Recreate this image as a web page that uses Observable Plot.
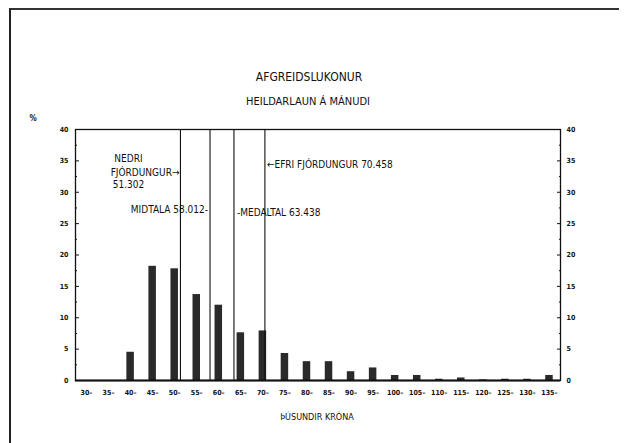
<!DOCTYPE html>
<html>
<head>
<meta charset="utf-8">
<script src="https://cdn.jsdelivr.net/npm/d3@7"></script>
<script src="https://cdn.jsdelivr.net/npm/@observablehq/plot@0.6"></script>
<style>
  html, body { margin: 0; padding: 0; background: #fff; }
  #wrap { position: relative; width: 625px; height: 443px; overflow: hidden; background: #fff;
          font-family: "DejaVu Sans Condensed", "Liberation Sans", sans-serif; color: #111; }
  #border { position: absolute; left: 9px; top: 8px; width: 608px; height: 440px;
            border-left: 2px solid #222; border-top: 2px solid #333; }
  .lbl { position: absolute; white-space: nowrap; transform: translate(-50%, -50%); }
  #title { left: 309px; top: 77px; font-size: 12px; }
  #subtitle { left: 308px; top: 101px; font-size: 11px; }
  #xtitle { left: 317px; top: 417px; font-size: 9px; }
  #pct { left: 33px; top: 118px; font-size: 8px; font-weight: bold; }
  #chart { position: absolute; left: 0; top: 0; }
</style>
</head>
<body>
<div id="wrap">
  <div id="border"></div>
  <div id="title" class="lbl">AFGREIDSLUKONUR</div>
  <div id="subtitle" class="lbl">HEILDARLAUN Á MÁNUDI</div>
  <div id="xtitle" class="lbl">ÞÚSUNDIR KRÓNA</div>
  <div id="pct" class="lbl">%</div>
  <div id="chart"></div>
</div>
<script>
// Income classes (lower bound, thousand krónur)
const classes = [30, 35, 40, 45, 50, 55, 60, 65, 70, 75, 80, 85, 90, 95, 100, 105, 110, 115, 120, 125, 130, 135];
// Percentage of saleswomen in each class
const percents = [0, 0, 4.5, 18.2, 17.8, 13.7, 12.0, 7.6, 7.9, 4.3, 3.0, 3.0, 1.4, 2.0, 0.8, 0.8, 0.2, 0.4, 0.1, 0.2, 0.2, 0.8];
// Statistics
const statNames = ["NEDRI FJÓRDUNGUR", "MIDTALA", "MEDALTAL", "EFRI FJÓRDUNGUR"];
const statValues = [51.302, 58.012, 63.438, 70.458];
// Y tick labels
const yTicks = [0, 5, 10, 15, 20, 25, 30, 35, 40];
const yMinor = [2.5, 7.5, 12.5, 17.5, 22.5, 27.5, 32.5, 37.5];

const bars = classes.map((c, i) => ({lo: c, pct: percents[i]}));
const stats = statNames.map((n, i) => ({name: n, value: statValues[i]}));
const fmt = v => v.toFixed(3);

const tickFont = {fontSize: 7, fontWeight: "bold", fontFamily: "DejaVu Sans Condensed, Liberation Sans, sans-serif", label: null};
const annFont = {fontSize: 10, fontFamily: "DejaVu Sans Condensed, Liberation Sans, sans-serif", fill: "#111"};

const chart = Plot.plot({
  width: 625,
  height: 443,
  marginLeft: 75,
  marginRight: 65,
  marginTop: 129,
  marginBottom: 63,
  x: {type: "linear", domain: [27.5, 137.5], axis: null},
  y: {domain: [0, 40], axis: null},
  marks: [
    Plot.rectY(bars, {x1: d => d.lo - 0.85, x2: d => d.lo + 0.85, y: "pct", fill: "#2a2a2a"}),
    Plot.ruleX(stats, {x: "value", y1: 0, y2: 40, stroke: "#111", strokeWidth: 1.1}),
    Plot.frame({stroke: "#111", strokeWidth: 1.3}),
    Plot.ruleY([0], {stroke: "#111", strokeWidth: 2}),
    // left axis
    Plot.axisY({anchor: "left", ticks: yTicks, tickSize: -4, tickPadding: 11, tickFormat: d => d, ...tickFont}),
    Plot.axisY({anchor: "left", ticks: yMinor, tickSize: -2, tickFormat: () => "", label: null}),
    // right axis
    Plot.axisY({anchor: "right", ticks: yTicks, tickSize: -4, tickPadding: 10, tickFormat: d => d, ...tickFont}),
    Plot.axisY({anchor: "right", ticks: yMinor, tickSize: -2, tickFormat: () => "", label: null}),
    // x axis
    Plot.axisX({anchor: "bottom", ticks: classes, tickSize: 0, tickPadding: 10, tickFormat: d => d + "–", ...tickFont}),
    // annotations
    Plot.text([stats[0]], {x: "value", frameAnchor: "top", dy: 25, dx: -52, text: () => "NEDRI", textAnchor: "middle", ...annFont}),
    Plot.text([stats[0]], {x: "value", frameAnchor: "top", dy: 39, dx: -1, text: () => "FJÓRDUNGUR→", textAnchor: "end", ...annFont}),
    Plot.text([stats[0]], {x: "value", frameAnchor: "top", dy: 51, dx: -52, text: d => fmt(d.value), textAnchor: "middle", ...annFont}),
    Plot.text([stats[1]], {x: "value", frameAnchor: "top", dy: 76, dx: -2, text: d => d.name + " " + fmt(d.value) + "-", textAnchor: "end", ...annFont}),
    Plot.text([stats[2]], {x: "value", frameAnchor: "top", dy: 79, dx: 3, text: d => "-" + d.name + " " + fmt(d.value), textAnchor: "start", ...annFont}),
    Plot.text([stats[3]], {x: "value", frameAnchor: "top", dy: 31, dx: 2, text: d => "←" + d.name + " " + fmt(d.value), textAnchor: "start", ...annFont})
  ]
});
chart.style.background = "transparent";
document.getElementById("chart").appendChild(chart);
</script>
</body>
</html>
